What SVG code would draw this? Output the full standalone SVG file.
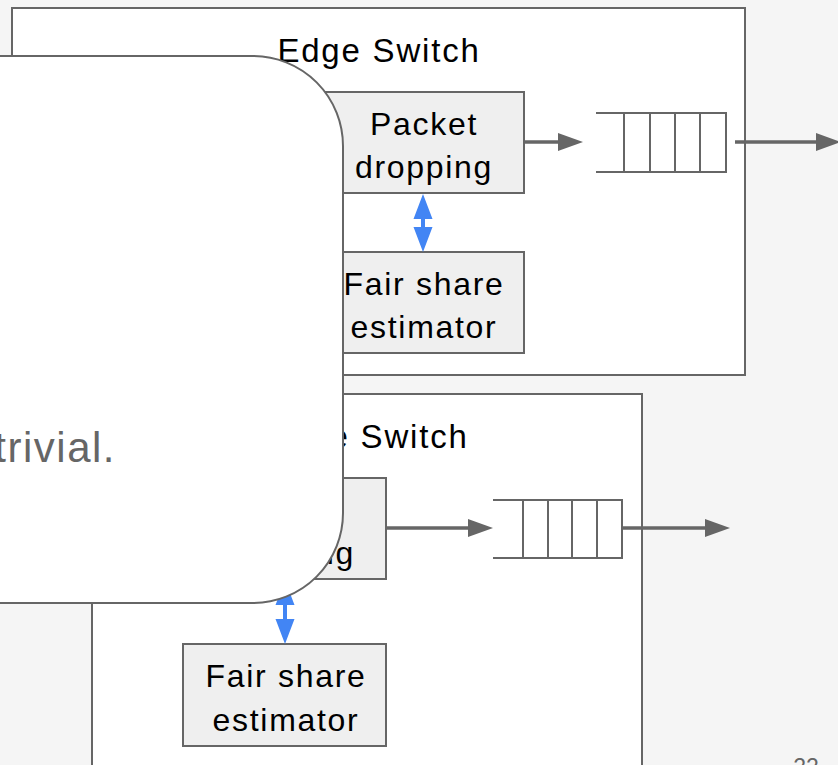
<svg xmlns="http://www.w3.org/2000/svg" width="838" height="765" viewBox="0 0 838 765">
  <defs>
    <style>
      text { font-family: "Liberation Sans", Arial, sans-serif; fill: #000000; }
      .switch { fill: #ffffff; stroke: #666666; stroke-width: 2; }
      .block { fill: #efefef; stroke: #666666; stroke-width: 2; }
      .label { font-size: 32px; text-anchor: middle; letter-spacing: 1.7px; }
      .title { font-size: 33px; text-anchor: middle; letter-spacing: 1.8px; }
      .queue { fill: none; stroke: #666666; stroke-width: 2; }
      .flow { fill: none; stroke: #666666; stroke-width: 3.5; }
      .flowhead { fill: #666666; }
      .ctl { fill: #4285f4; }
    </style>
  </defs>

  <rect width="838" height="765" fill="#f5f5f5"/>

  <!-- upper switch -->
  <g id="switch-top">
    <rect class="switch" x="12" y="8" width="733" height="367"/>
    <text class="title" x="379" y="62">Edge Switch</text>
  </g>
  <g id="drop-top">
    <rect class="block" x="321" y="92" width="203" height="101"/>
    <text class="label" x="424" y="135">Packet</text>
    <text class="label" x="424" y="178">dropping</text>
  </g>
  <g id="estimator-top">
    <rect class="block" x="321" y="252" width="203" height="101"/>
    <text class="label" x="424" y="295">Fair share</text>
    <text class="label" x="424" y="338">estimator</text>
  </g>
  <g id="queue-top">
    <path class="queue" d="M596,113 H726 V172 H596 M624,113 V172 M650,113 V172 M675,113 V172 M700,113 V172"/>
  </g>

  <!-- lower switch -->
  <g id="switch-bottom">
    <rect class="switch" x="92" y="394" width="550" height="390"/>
    <text class="title" x="367" y="448">Edge Switch</text>
  </g>
  <g id="drop-bottom">
    <rect class="block" x="183" y="478" width="203" height="101"/>
    <text class="label" x="286" y="521">Packet</text>
    <text class="label" x="286" y="564">dropping</text>
  </g>
  <g id="estimator-bottom">
    <rect class="block" x="183" y="644" width="203" height="102"/>
    <text class="label" x="286" y="687">Fair share</text>
    <text class="label" x="286" y="731">estimator</text>
  </g>
  <g id="queue-bottom">
    <path class="queue" d="M493,500 H622 V558 H493 M523,500 V558 M548,500 V558 M572,500 V558 M597,500 V558"/>
  </g>

  <!-- connectors -->
  <g id="connectors">
    <!-- packet flow -->
    <path class="flow" d="M524,142 H560"/>
    <path class="flowhead" d="M558,133 L583,142 L558,151 Z"/>
    <path class="flow" d="M735,142 H818"/>
    <path class="flowhead" d="M816,133 L841,142 L816,151 Z"/>
    <path class="flow" d="M386,528 H470"/>
    <path class="flowhead" d="M468,519 L493,528 L468,537 Z"/>
    <path class="flow" d="M622,528 H707"/>
    <path class="flowhead" d="M705,519 L730,528 L705,537 Z"/>
    <!-- estimator feedback -->
    <path class="ctl" d="M423,194 L432.5,219 L425,219 L425,227 L432.5,227 L423,252 L413.5,227 L421,227 L421,219 L413.5,219 Z"/>
    <path class="ctl" d="M285,580 L294.5,605 L287,605 L287,619 L294.5,619 L285,644 L275.5,619 L283,619 L283,605 L275.5,605 Z"/>
  </g>

  <!-- overlaid note -->
  <g id="note">
    <path d="M-20,56 H253 A90,90 0 0 1 343,146 V513 A90,90 0 0 1 253,603 H-20 Z" fill="#ffffff" stroke="#666666" stroke-width="2"/>
    <text x="116" y="462" font-size="42" letter-spacing="1.5" text-anchor="end" style="fill:#666666">trivial.</text>
  </g>

  <g id="page-number">
    <text x="806" y="775" font-size="23" text-anchor="middle" style="fill:#666666">22</text>
  </g>
</svg>
